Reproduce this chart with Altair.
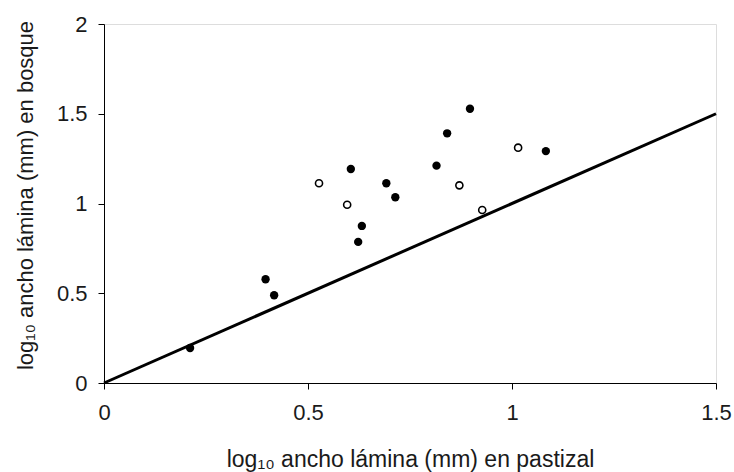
import altair as alt
import pandas as pd

# Filled points (solid) and open points
filled_x = [0.211, 0.396, 0.417, 0.605, 0.632, 0.623, 0.692, 0.714, 0.815, 0.841, 0.897, 1.083]
filled_y = [0.195, 0.578, 0.489, 1.192, 0.875, 0.786, 1.113, 1.035, 1.211, 1.391, 1.528, 1.292]
open_x = [0.527, 0.596, 0.871, 0.927, 1.015]
open_y = [1.113, 0.993, 1.101, 0.964, 1.311]
line_x = [0.0, 1.5]
line_y = [0.0, 1.5]

x_ticks = [0, 0.5, 1, 1.5]
y_ticks = [0, 0.5, 1, 1.5, 2]

df_f = pd.DataFrame({"x": filled_x, "y": filled_y})
df_o = pd.DataFrame({"x": open_x, "y": open_y})
df_l = pd.DataFrame({"x": line_x, "y": line_y})

FONT = "Liberation Sans"
TXT = "#1a1a1a"

xs = alt.Scale(domain=[0, 1.5], nice=False, zero=False)
ys = alt.Scale(domain=[0, 2], nice=False, zero=False)

xax = alt.Axis(values=x_ticks, format=".1~f", title="log₁₀ ancho lámina (mm) en pastizal",
               grid=False, domainColor="black", tickColor="black", tickSize=6,
               labelFont=FONT, labelFontSize=22, labelColor=TXT, labelPadding=13,
               titleFont=FONT, titleFontSize=23, titleFontWeight="normal", titleColor=TXT,
               titlePadding=25, labelFlush=False)
yax = alt.Axis(values=y_ticks, format=".1~f", title="log₁₀ ancho lámina (mm) en bosque",
               grid=False, domainColor="black", tickColor="black", tickSize=6,
               labelFont=FONT, labelFontSize=22, labelColor=TXT, labelPadding=11,
               titleFont=FONT, titleFontSize=22, titleFontWeight="normal", titleColor=TXT,
               titlePadding=19, titleY=171, labelFlush=False)

line = alt.Chart(df_l).mark_line(color="black", strokeWidth=3).encode(
    x=alt.X("x:Q", scale=xs, axis=xax),
    y=alt.Y("y:Q", scale=ys, axis=yax),
)
pf = alt.Chart(df_f).mark_point(shape="circle", filled=True, color="black", size=70, opacity=1).encode(
    x=alt.X("x:Q", scale=xs), y=alt.Y("y:Q", scale=ys))
po = alt.Chart(df_o).mark_point(shape="circle", filled=True, fill="white", stroke="black",
                                strokeWidth=1.6, size=50, opacity=1).encode(
    x=alt.X("x:Q", scale=xs), y=alt.Y("y:Q", scale=ys))

chart = alt.layer(line, pf, po).properties(
    width=612, height=359,
    autosize=alt.AutoSizeParams(type="none"),
    padding={"left": 104, "top": 24, "right": 18, "bottom": 89},
).configure_view(stroke=None).configure(background="white")

chart.save("out.html", embed_options={"renderer": "svg", "actions": False})
